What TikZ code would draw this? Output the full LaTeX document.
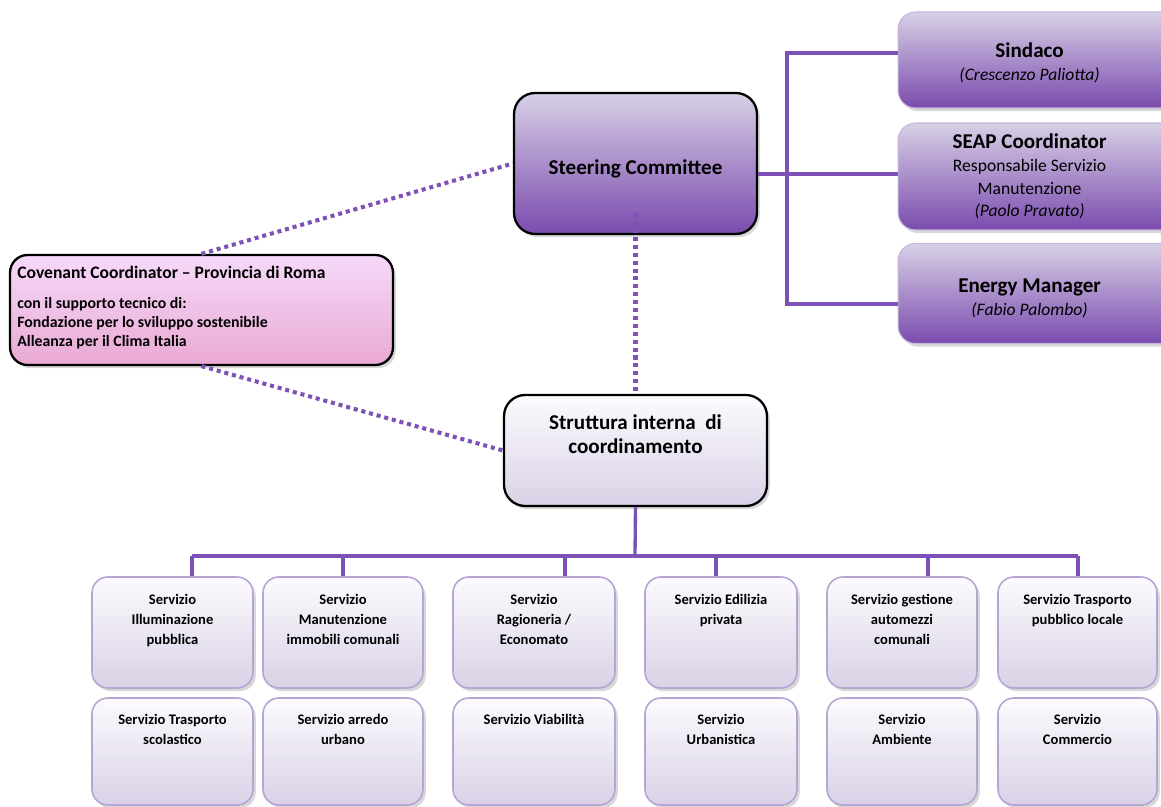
\documentclass[tikz,border=0pt]{standalone}
\usepackage{fontspec}
\setmainfont{Carlito}
\usepackage{tikz}
\usetikzlibrary{positioning,shadows}
\definecolor{linepurple}{HTML}{7D51B5}
\definecolor{steertop}{HTML}{D8D0E6}
\definecolor{steerbot}{HTML}{7A4BAE}
\definecolor{paletop}{HTML}{FCFBFE}
\definecolor{palebot}{HTML}{D9D1E6}
\definecolor{paleedge}{HTML}{B6A4D3}
\definecolor{pinktop}{HTML}{F6D9F9}
\definecolor{pinkbot}{HTML}{E9A9D3}
\definecolor{rightedge}{HTML}{C5B7DC}
\tikzset{
  softshadow/.style={drop shadow={shadow xshift=1.6pt, shadow yshift=-1.8pt, opacity=0.22, fill=black!70}},
  steerbox/.style={
    rectangle, rounded corners=12pt, draw=black, line width=1.3pt,
    top color=steertop, bottom color=steerbot, softshadow,
    minimum width=4.86cm, minimum height=2.82cm, align=center, text height=15pt,
    font=\fontsize{12}{14}\selectfont\bfseries
  },
  rolebox/.style={
    rectangle, rounded corners=10pt, draw=rightedge, line width=0.6pt,
    top color=steertop, bottom color=steerbot, softshadow,
    minimum width=5.72cm
  },
  roletext/.style={align=center, inner sep=0pt, font=\fontsize{10}{13}\selectfont},
  covbox/.style={
    rectangle, rounded corners=10pt, draw=black, line width=1.3pt,
    top color=pinktop, bottom color=pinkbot, softshadow,
    minimum width=7.66cm, minimum height=2.2cm
  },
  covtext/.style={align=left, inner sep=0pt, font=\fontsize{9}{10.6}\selectfont\bfseries},
  strutbox/.style={
    rectangle, rounded corners=12pt, draw=black, line width=1.3pt,
    top color=paletop, bottom color=palebot, softshadow,
    minimum width=5.26cm, minimum height=2.22cm
  },
  svcbox/.style={
    rectangle, rounded corners=9pt, draw=paleedge, line width=0.9pt,
    top color=paletop, bottom color=palebot, softshadow,
    minimum width=3.2cm
  },
  svctext/.style={align=center, inner sep=0pt, font=\fontsize{8.3}{11.3}\selectfont\bfseries},
  treeline/.style={draw=linepurple, line width=1.9pt},
  dotline/.style={draw=linepurple, line width=2.3pt, dash pattern=on 2.3pt off 2.2pt},
}

\begin{document}
\begin{tikzpicture}[x=0.02cm, y=-0.02cm, node distance=0.5cm]
  \useasboundingbox (0,0) rectangle (1161,807);
  \clip (0,0) rectangle (1161,807);

  % connectors
  \coordinate (rbus) at (787,174);
  \coordinate (bbus) at (635,556);
  \coordinate (t1) at (192,556);
  \coordinate (t2) at (343,556);
  \coordinate (t3) at (565,556);
  \coordinate (t4) at (716,556);
  \coordinate (t5) at (928,556);
  \coordinate (t6) at (1078,556);

  % top part
  \node[steerbox] (steer) at (635.5,163.5) {Steering Committee};
  \node[rolebox, minimum height=1.92cm] (sind) at (1041,60) {};
  \node[rolebox, minimum height=2.14cm] (seap) at (1041,176.5) {};
  \node[rolebox, minimum height=2.0cm] (enman) at (1041,293.5) {};
  \node[roletext] (sindtxt) at ([xshift=-6.5pt,yshift=-1.5pt]sind.center) {{\fontsize{12}{13}\selectfont\bfseries Sindaco}\\\textit{(Crescenzo Paliotta)}};
  \node[roletext] (seaptxt) at ([xshift=-6.5pt]seap.center) {{\fontsize{12}{13}\selectfont\bfseries SEAP Coordinator}\\Responsabile Servizio\\Manutenzione\\\textit{(Paolo Pravato)}};
  \node[roletext] (enmantxt) at ([xshift=-6.5pt,yshift=-3pt]enman.center) {{\fontsize{12}{14}\selectfont\bfseries Energy Manager}\\\textit{(Fabio Palombo)}};

  \node[covbox] (cov) at (201.5,310) {};
  \node[covtext, anchor=north west] (covtxt) at ([xshift=4.6pt,yshift=-7pt]cov.north west) {{\fontsize{10}{11}\selectfont Covenant Coordinator -- Provincia di Roma}\\[6.5pt]con il supporto tecnico di:\\Fondazione per lo sviluppo sostenibile\\Alleanza per il Clima Italia};

  \node[strutbox] (strut) at (635.5,450.5) {};
  \node[align=center, inner sep=0pt, font=\fontsize{12}{13.6}\selectfont\bfseries, below=11.5pt of strut.north] (struttxt) {Struttura interna\ \ di\\coordinamento};

  % services, first row
  \node[svcbox, minimum width=3.22cm, minimum height=2.22cm] (illum) at (172.5,632.5) {};
  \node[svcbox, minimum width=3.2cm, minimum height=2.22cm] (manut) at (343,632.5) {};
  \node[svcbox, minimum width=3.24cm, minimum height=2.22cm] (ragion) at (534,632.5) {};
  \node[svcbox, minimum width=3.04cm, minimum height=2.22cm] (edil) at (721,632.5) {};
  \node[svcbox, minimum width=3.0cm, minimum height=2.22cm] (autom) at (902,632.5) {};
  \node[svcbox, minimum width=3.18cm, minimum height=2.22cm] (tpl) at (1077.5,632.5) {};
  % services, second row
  \node[svcbox, minimum width=3.22cm, minimum height=2.14cm] (scol) at (172.5,751.5) {};
  \node[svcbox, minimum width=3.2cm, minimum height=2.14cm] (arredo) at (343,751.5) {};
  \node[svcbox, minimum width=3.24cm, minimum height=2.14cm] (viab) at (534,751.5) {};
  \node[svcbox, minimum width=3.04cm, minimum height=2.14cm] (urban) at (721,751.5) {};
  \node[svcbox, minimum width=3.0cm, minimum height=2.14cm] (amb) at (902,751.5) {};
  \node[svcbox, minimum width=3.18cm, minimum height=2.14cm] (comm) at (1077.5,751.5) {};

  \node[svctext, below=10pt of illum.north] (illumtxt) {Servizio\\Illuminazione\\pubblica};
  \node[svctext, below=10pt of manut.north] (manuttxt) {Servizio\\Manutenzione\\immobili comunali};
  \node[svctext, below=10pt of ragion.north] (ragiontxt) {Servizio\\Ragioneria /\\Economato};
  \node[svctext, below=10pt of edil.north] (ediltxt) {Servizio Edilizia\\privata};
  \node[svctext, below=10pt of autom.north] (automtxt) {Servizio gestione\\automezzi\\comunali};
  \node[svctext, below=10pt of tpl.north] (tpltxt) {Servizio Trasporto\\pubblico locale};
  \node[svctext, below=9.5pt of scol.north] (scoltxt) {Servizio Trasporto\\scolastico};
  \node[svctext, below=9.5pt of arredo.north] (arredotxt) {Servizio arredo\\urbano};
  \node[svctext, below=9.5pt of viab.north] (viabtxt) {Servizio Viabilità};
  \node[svctext, below=9.5pt of urban.north] (urbantxt) {Servizio\\Urbanistica};
  \node[svctext, below=9.5pt of amb.north] (ambtxt) {Servizio\\Ambiente};
  \node[svctext, below=9.5pt of comm.north] (commtxt) {Servizio\\Commercio};

  % tree lines
  \draw[treeline] (steer.east |- rbus) -- (seap.west |- rbus);
  \draw[treeline] ([yshift=4pt]sind.west) -| (rbus) |- ([yshift=-6pt]enman.west);
  \draw[treeline] (strut.south) -- (bbus);
  \draw[treeline] (t1) -- (t6);
  \foreach \t/\n in {t1/illum, t2/manut, t3/ragion, t4/edil, t5/autom, t6/tpl}
    \draw[treeline] (\t) -- (\t |- \n.north);

  % dotted links
  \draw[dotline] (cov.north) -- (steer.west);
  \draw[dotline] (cov.south) -- (strut.west);
  \draw[dotline] ([yshift=12.5pt]steer.south) -- (strut.north);
\end{tikzpicture}
\end{document}
